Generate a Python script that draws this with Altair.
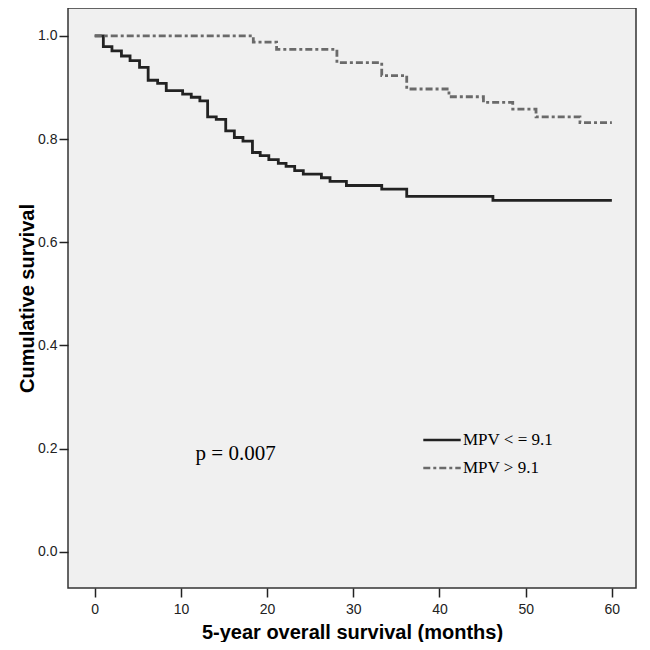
import altair as alt
import pandas as pd

# --- data ---
groups = ["MPV < = 9.1", "MPV > 9.1"]

low_t = [0, 1.0, 2.0, 3.1, 4.1, 5.2, 6.2, 7.3, 8.3, 10.2, 11.2, 12.2, 13.1, 14.1,
         15.2, 16.2, 17.2, 18.3, 19.2, 20.2, 21.3, 22.2, 23.2, 24.2, 26.3, 27.3,
         29.2, 33.3, 36.2, 46.2, 60]
low_s = [1.0, 0.979, 0.971, 0.961, 0.952, 0.939, 0.914, 0.908, 0.894, 0.887, 0.881,
         0.874, 0.843, 0.838, 0.816, 0.803, 0.796, 0.774, 0.768, 0.760, 0.753, 0.747,
         0.739, 0.732, 0.725, 0.718, 0.710, 0.703, 0.689, 0.681, 0.681]

high_t = [0, 18.4, 21.1, 28.1, 33.3, 36.2, 41.1, 45.1, 48.5, 51.2, 56.3, 60]
high_s = [1.0, 0.988, 0.974, 0.948, 0.923, 0.897, 0.882, 0.871, 0.858, 0.843, 0.832, 0.832]

x_ticks = [0, 10, 20, 30, 40, 50, 60]
y_ticks = [0.0, 0.2, 0.4, 0.6, 0.8, 1.0]

p_text = ["p = 0.007"]
p_pos = [(11.7, 0.19)]

rows = []
for t, s in zip(low_t, low_s):
    rows.append({"time": t, "surv": s, "group": groups[0]})
for t, s in zip(high_t, high_s):
    rows.append({"time": t, "surv": s, "group": groups[1]})
df = pd.DataFrame(rows)

ptxt = pd.DataFrame({"x": [p[0] for p in p_pos], "y": [p[1] for p in p_pos], "label": p_text})

xscale = alt.Scale(domain=[-3.1, 62.8], nice=False, zero=False)
yscale = alt.Scale(domain=[-0.07, 1.054], nice=False, zero=False)

lines = alt.Chart(df).mark_line(interpolate="step-after", strokeWidth=2.8).encode(
    x=alt.X("time:Q", scale=xscale,
            axis=alt.Axis(title="5-year overall survival (months)", values=x_ticks,
                          format="d", grid=False, domain=False, tickSize=9,
                          tickColor="#222", tickWidth=1.5, labelPadding=5,
                          titlePadding=6)),
    y=alt.Y("surv:Q", scale=yscale,
            axis=alt.Axis(title="Cumulative survival", values=y_ticks, format=".1f",
                          grid=False, domain=False, tickSize=9, tickColor="#222",
                          tickWidth=1.5, labelPadding=2, titlePadding=0)),
    color=alt.Color("group:N", scale=alt.Scale(domain=groups, range=["#222222", "#6a6a6a"]),
                    legend=alt.Legend(title=None, orient="none", legendX=354, legendY=412,
                                      symbolType="stroke", symbolSize=1400,
                                      symbolStrokeWidth=2.5, labelFont="Liberation Serif",
                                      labelFontSize=17, labelColor="#000", labelOffset=1,
                                      rowPadding=0)),
    strokeDash=alt.StrokeDash("group:N",
                              scale=alt.Scale(domain=groups, range=[[1, 0], [7, 3, 3, 3]]),
                              legend=None),
    detail="group:N",
)

ptext = alt.Chart(ptxt).mark_text(font="Liberation Serif", fontSize=21, align="left",
                                  baseline="middle", color="#000").encode(
    x=alt.X("x:Q", scale=xscale), y=alt.Y("y:Q", scale=yscale), text="label:N")

chart = alt.layer(lines, ptext).properties(
    width=568, height=580,
    autosize=alt.AutoSizeParams(type="none"),
    padding={"left": 60, "top": 0, "right": 6, "bottom": 54},
    background="white",
).configure_view(
    fill="#f0f0f0", stroke="#333333", strokeWidth=1.5
).configure_axis(
    labelFont="Liberation Sans", labelFontSize=14, labelColor="#222",
    titleFont="Liberation Sans", titleFontSize=20, titleFontWeight="bold",
    titleColor="#000"
)

chart.save("out.html", embed_options={"renderer": "svg", "actions": False})
